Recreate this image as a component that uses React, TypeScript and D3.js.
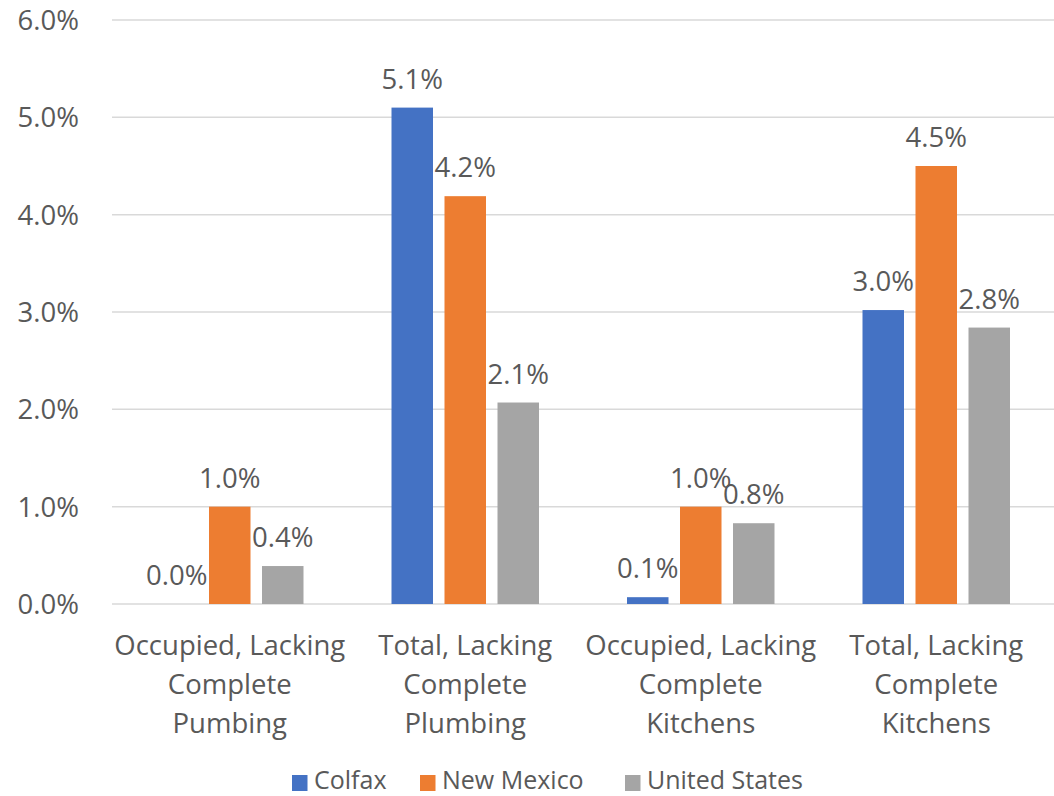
import React from "react";
import * as d3 from "d3";

const categories: string[][] = [
  ["Occupied, Lacking", "Complete", "Pumbing"],
  ["Total, Lacking", "Complete", "Plumbing"],
  ["Occupied, Lacking", "Complete", "Kitchens"],
  ["Total, Lacking", "Complete", "Kitchens"],
];
const seriesNames = ["Colfax", "New Mexico", "United States"];
const colfax = [0.0, 5.1, 0.07, 3.02];
const newMexico = [1.0, 4.19, 1.0, 4.5];
const unitedStates = [0.39, 2.07, 0.83, 2.84];
const labelsColfax = ["0.0%", "5.1%", "0.1%", "3.0%"];
const labelsNM = ["1.0%", "4.2%", "1.0%", "4.5%"];
const labelsUS = ["0.4%", "2.1%", "0.8%", "2.8%"];
const yTicks = [0, 1, 2, 3, 4, 5, 6];
const colors = ["#4472C4", "#ED7D31", "#A5A5A5"];

export default function App() {
  const W = 1054, H = 796;
  const left = 112, right = 1054, top = 20, bottom = 604;
  const font = "'Open Sans', sans-serif";
  const textColor = "#595959";
  const x0 = d3.scaleBand<number>().domain(d3.range(categories.length)).range([left, right]).paddingInner(0).paddingOuter(0);
  const y = d3.scaleLinear().domain([0, 6]).range([bottom, top]);
  const barW = 41.5;
  const step = 53;
  const series = [colfax, newMexico, unitedStates];
  const labels = [labelsColfax, labelsNM, labelsUS];
  const legendX = [292, 420, 625];
  return (
    <svg width={W} height={H} style={{ position: "absolute", left: 0, top: 0 }}>
      <rect width={W} height={H} fill="#fff" />
      {yTicks.map((t) => (
        <g key={t}>
          <line x1={left} x2={right} y1={y(t)} y2={y(t)} stroke="#d9d9d9" strokeWidth={1.5} />
          <text x={79} y={y(t) + 10} textAnchor="end" fontFamily={font} fontSize={27.5} fill={textColor}>
            {t.toFixed(1) + "%"}
          </text>
        </g>
      ))}
      {series.map((vals, si) =>
        vals.map((v, ci) => {
          const cx = x0(ci)! + x0.bandwidth() / 2 + (si - 1) * step;
          return (
            <g key={si + "-" + ci}>
              <rect x={cx - barW / 2} y={y(v)} width={barW} height={bottom - y(v)} fill={colors[si]} />
              <text x={cx} y={y(v) - 19} textAnchor="middle" fontFamily={font} fontSize={27.5} fill={textColor}>
                {labels[si][ci]}
              </text>
            </g>
          );
        })
      )}
      {categories.map((lines, ci) => (
        <text key={ci} textAnchor="middle" fontFamily={font} fontSize={27.5} fill={textColor}>
          {lines.map((l, li) => (
            <tspan key={li} x={x0(ci)! + x0.bandwidth() / 2} y={655 + li * 39}>
              {l}
            </tspan>
          ))}
        </text>
      ))}
      {seriesNames.map((n, si) => (
        <g key={n}>
          <rect x={legendX[si]} y={775} width={15.5} height={16} fill={colors[si]} />
          <text x={legendX[si] + 22} y={789} fontFamily={font} fontSize={25} fill={textColor}>
            {n}
          </text>
        </g>
      ))}
    </svg>
  );
}
